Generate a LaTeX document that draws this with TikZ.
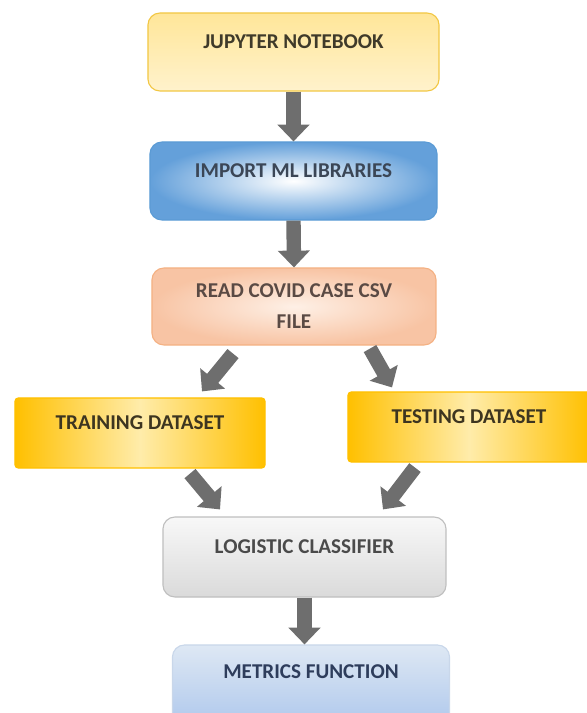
\documentclass[tikz,border=0pt]{standalone}
\usepackage{fontspec}
\setmainfont{Carlito}
\usetikzlibrary{arrows.meta}
\definecolor{arrowgray}{HTML}{6E6E6E}
\definecolor{gold}{HTML}{FFC000}
\begin{document}
\begin{tikzpicture}[x=0.025cm,y=-0.025cm,
  box/.style={draw, line width=0.8pt, rounded corners=0.3cm, align=center, inner sep=0pt,
    font=\fontsize{15}{22}\selectfont\bfseries},
  lift/.style={text depth=0.5cm},
  flow/.style={draw=arrowgray, line width=0.36cm, -{Triangle[width=0.78cm,length=0.42cm]}}]
\clip (0,0) rectangle (587,713);
% Boxes
\node[box, lift, minimum width=7.275cm, minimum height=1.95cm, draw={rgb,255:red,242;green,199;blue,68},
  top color={rgb,255:red,255;green,230;blue,153}, bottom color={rgb,255:red,255;green,242;blue,204},
  text={rgb,255:red,63;green,58;blue,42}] (jupyter) at (293.5,52) {JUPYTER NOTEBOOK};
\node[box, lift, minimum width=7.175cm, minimum height=1.95cm, draw={rgb,255:red,91;green,155;blue,213},
  inner color=white, outer color={rgb,255:red,100;green,160;blue,218},
  text={rgb,255:red,59;green,70;blue,86}] (import) at (293.5,181) {IMPORT ML LIBRARIES};
\node[box, minimum width=7.1cm, minimum height=1.925cm, draw={rgb,255:red,244;green,177;blue,131},
  inner color={rgb,255:red,254;green,240;blue,230}, outer color={rgb,255:red,248;green,196;blue,164},
  text={rgb,255:red,90;green,74;blue,68}] (read) at (294,306.5) {READ COVID CASE CSV\\FILE};
\node[box, lift, rounded corners=0.08cm, minimum width=6.25cm, minimum height=1.75cm, draw=gold,
  left color=gold, right color=gold, middle color={rgb,255:red,255;green,236;blue,170},
  text={rgb,255:red,61;green,53;blue,32}] (train) at (140,433) {TRAINING DATASET};
\node[box, lift, rounded corners=0.08cm, minimum width=6.05cm, minimum height=1.75cm, draw=gold,
  left color=gold, right color=gold, middle color={rgb,255:red,255;green,236;blue,170},
  text={rgb,255:red,61;green,53;blue,32}] (test) at (469,427) {TESTING DATASET};
\node[box, lift, minimum width=7.075cm, minimum height=2cm, draw={rgb,255:red,191;green,191;blue,191},
  top color={rgb,255:red,248;green,248;blue,248}, bottom color={rgb,255:red,218;green,218;blue,218},
  text={rgb,255:red,74;green,74;blue,74}] (logistic) at (304.5,557) {LOGISTIC CLASSIFIER};
\node[box, text depth=0.9cm, minimum width=6.925cm, minimum height=2.25cm, draw={rgb,255:red,201;green,215;blue,234},
  top color={rgb,255:red,222;green,232;blue,244}, bottom color={rgb,255:red,169;green,196;blue,235},
  text={rgb,255:red,46;green,61;blue,92}] (metrics) at (311,690) {METRICS FUNCTION};
% Arrows
\draw[flow] (jupyter.south) -- (import.north);
\draw[flow] (import.south) -- (read.north);
\draw[flow] ([shift={(-61,8)}]read.south) -- ([shift={(62,-6)}]train.north);
\draw[flow] ([shift={(76,3)}]read.south) -- ([shift={(-77,-4)}]test.north);
\draw[flow] ([shift={(50,5)}]train.south) -- ([shift={(-84.5,-7)}]logistic.north);
\draw[flow] ([shift={(-54,5)}]test.south) -- ([shift={(78.5,-7)}]logistic.north);
\draw[flow] (logistic.south) -- (logistic.south |- metrics.north);
\end{tikzpicture}
\end{document}
